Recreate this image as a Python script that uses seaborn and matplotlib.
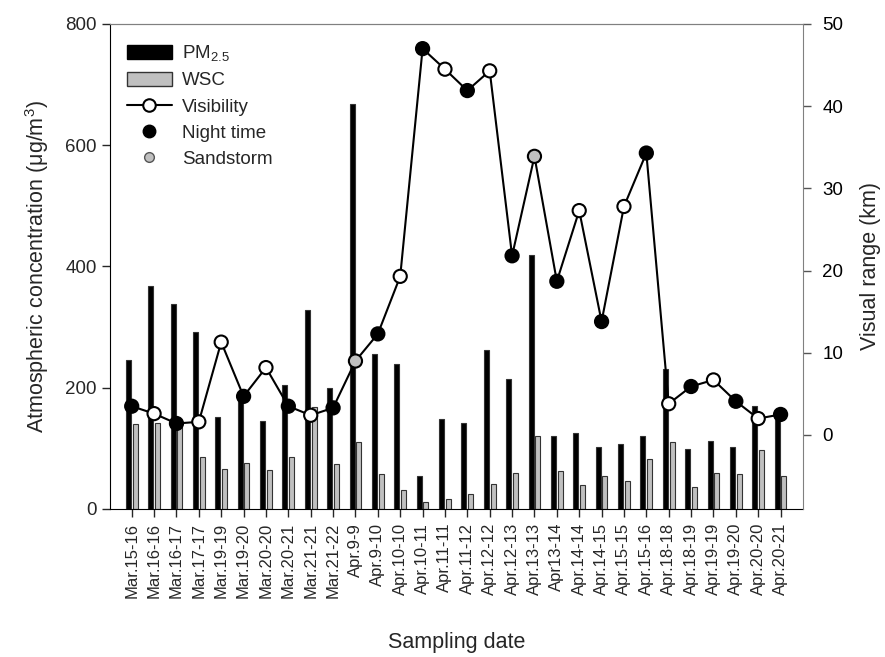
import numpy as np
import pandas as pd
import matplotlib.pyplot as plt
from matplotlib.patches import Patch
from matplotlib.lines import Line2D
import seaborn as sns

# sampling periods (x axis)
dates = ["Mar.15-16", "Mar.16-16", "Mar.16-17", "Mar.17-17", "Mar.19-19",
         "Mar.19-20", "Mar.20-20", "Mar.20-21", "Mar.21-21", "Mar.21-22",
         "Apr.9-9", "Apr.9-10", "Apr.10-10", "Apr.10-11", "Apr.11-11",
         "Apr.11-12", "Apr.12-12", "Apr.12-13", "Apr.13-13", "Apr13-14",
         "Apr.14-14", "Apr.14-15", "Apr.15-15", "Apr.15-16", "Apr.18-18",
         "Apr.18-19", "Apr.19-19", "Apr.19-20", "Apr.20-20", "Apr.20-21"]

# atmospheric concentration, ug/m3
pm25 = [246, 368, 338, 292, 151, 190, 145, 205, 329, 200,
        668, 256, 239, 55, 148, 141, 262, 214, 419, 121,
        125, 102, 107, 120, 231, 99, 112, 102, 170, 160]
wsc = [140, 141, 136, 85, 66, 76, 65, 85, 169, 75,
       111, 58, 31, 11, 17, 25, 41, 60, 121, 62,
       40, 54, 46, 83, 111, 37, 60, 57, 97, 55]

# visual range, km
visibility = [3.5, 2.6, 1.4, 1.6, 11.3, 4.7, 8.2, 3.5, 2.4, 3.3,
              9.0, 12.3, 19.3, 47.0, 44.5, 41.9, 44.3, 21.8, 33.9, 18.7,
              27.3, 13.8, 27.8, 34.3, 3.8, 5.9, 6.7, 4.1, 2.0, 2.5]
period = ["Night", "Day", "Night", "Day", "Day", "Night", "Day", "Night", "Day", "Night",
          "Sandstorm", "Night", "Day", "Night", "Day", "Night", "Day", "Night", "Sandstorm", "Night",
          "Day", "Night", "Day", "Night", "Day", "Night", "Day", "Night", "Day", "Night"]

sns.set_style("ticks")
plt.rcParams['font.family'] = ['Liberation Sans', 'DejaVu Sans']
plt.rcParams['mathtext.fontset'] = 'custom'
plt.rcParams['mathtext.rm'] = 'Liberation Sans'
plt.rcParams['mathtext.it'] = 'Liberation Sans:italic'

fig = plt.figure(figsize=(8.85, 6.57), dpi=100)
ax = fig.add_axes([0.1243, 0.2253, 0.7830, 0.7382])

bars = pd.DataFrame({
    "date": dates * 2,
    "value": pm25 + wsc,
    "species": ["PM2.5"] * len(dates) + ["WSC"] * len(dates),
})
sns.barplot(data=bars, x="date", y="value", hue="species", order=dates,
            hue_order=["PM2.5", "WSC"],
            palette={"PM2.5": "black", "WSC": "#c0c0c0"},
            width=0.6, gap=0.25, errorbar=None, edgecolor="#333333",
            linewidth=0.8, legend=False, ax=ax)

ax2 = ax.twinx()
x = np.arange(len(dates))
sns.lineplot(x=x, y=visibility, color="black", lw=1.5, ax=ax2)
pts = pd.DataFrame({"x": x, "vis": visibility, "period": period})
sns.scatterplot(data=pts, x="x", y="vis", hue="period",
                palette={"Night": "black", "Day": "white", "Sandstorm": "#c0c0c0"},
                edgecolor="black", linewidth=1.5, s=90, legend=False,
                ax=ax2, zorder=3)

ax.set_ylim(0, 800)
ax.set_yticks(range(0, 801, 200))
ax2.set_ylim(-9, 50)
ax2.set_yticks(range(0, 51, 10))
ax.set_xlim(-0.97, 30.0)
ax.set_xticks(x)
ax.set_xticklabels(dates, rotation=90)

ax.set_xlabel("Sampling date", fontsize=15.5, labelpad=24)
ax.set_ylabel("Atmospheric concentration (μg/m$^3$)", fontsize=15.5, labelpad=10)
ax2.set_ylabel("Visual range (km)", fontsize=15.5, labelpad=12)
ax2.set_xlabel("")

ax.tick_params(axis="both", direction="out", length=6, width=1, labelsize=13.5)
ax.tick_params(axis="x", labelsize=12, pad=4)
ax2.tick_params(axis="y", direction="out", length=6, width=1, labelsize=13.5,
                pad=8, color="#555555", labelcolor="black")

for s in ["left", "bottom"]:
    ax.spines[s].set_color("black")
ax.spines["top"].set_color("#808080")
ax.spines["right"].set_visible(False)
ax2.spines["right"].set_color("#808080")
ax2.spines["top"].set_color("#808080")
ax2.spines["left"].set_visible(False)
ax2.spines["bottom"].set_visible(False)

handles = [
    Patch(facecolor="black", edgecolor="black", label="PM$_{2.5}$"),
    Patch(facecolor="#c0c0c0", edgecolor="#333333", label="WSC"),
    Line2D([0], [0], color="black", lw=1.5, marker="o", markersize=9,
           markerfacecolor="white", markeredgecolor="black", markeredgewidth=1.5,
           label="Visibility"),
    Line2D([0], [0], color="none", marker="o", markersize=9,
           markerfacecolor="black", markeredgecolor="black", label="Night time"),
    Line2D([0], [0], color="none", marker="o", markersize=7,
           markerfacecolor="#c0c0c0", markeredgecolor="#555555", label="Sandstorm"),
]
ax.legend(handles=handles, loc="upper left", bbox_to_anchor=(0.0, 0.995),
          frameon=False, fontsize=13.5, handlelength=2.4, handleheight=0.8,
          labelspacing=0.45, handletextpad=0.55)

fig.savefig("out.png", dpi=100)
